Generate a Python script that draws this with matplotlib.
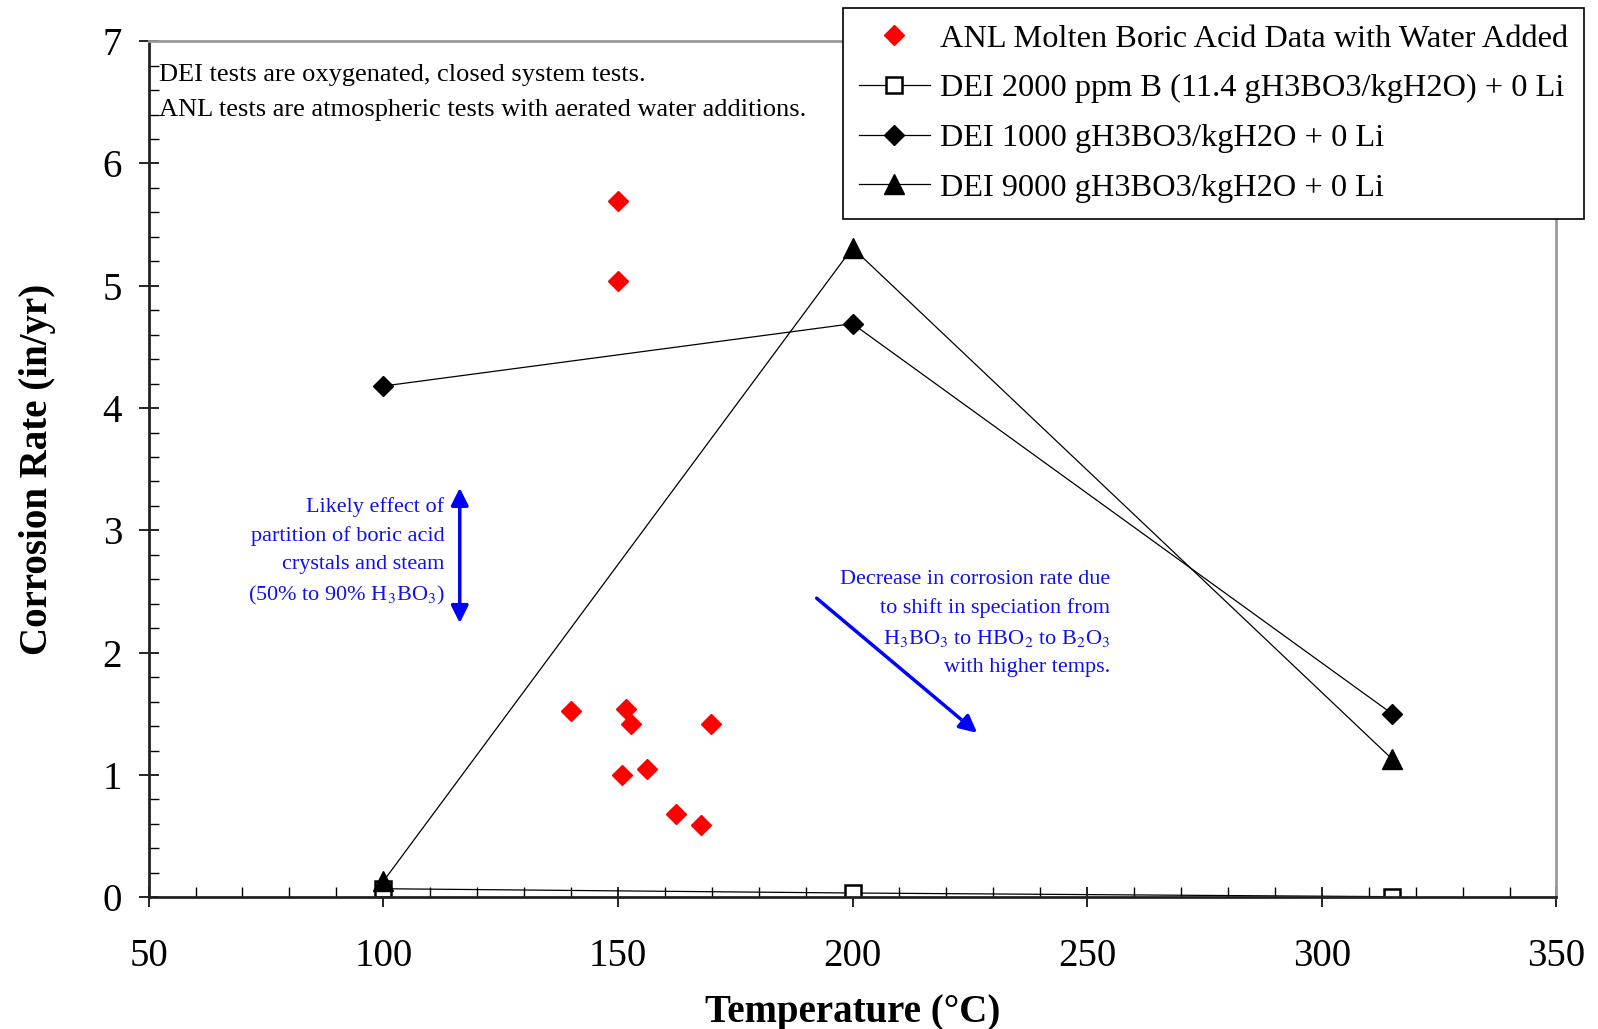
import matplotlib.pyplot as plt
from matplotlib.ticker import MultipleLocator

plt.rcParams['font.family'] = ['Liberation Serif', 'DejaVu Serif']
plt.rcParams['mathtext.fontset'] = 'stix'

# ANL molten boric acid data with water added
anl_temp = [150, 150, 140, 151.7, 152.8, 150.8, 156.2, 162.3, 167.7, 169.9]
anl_rate = [5.69, 5.04, 1.52, 1.54, 1.42, 1.00, 1.05, 0.68, 0.59, 1.42]

# DEI series
dei_temp = [100, 200, 315]
dei_2000ppm = [0.07, 0.035, 0.005]
dei_1000 = [4.18, 4.69, 1.50]
dei_9000 = [0.13, 5.31, 1.13]

fig = plt.figure(figsize=(15.98, 10.29), dpi=100)
ax = fig.add_axes([0.093, 0.128, 0.881, 0.832])

ax.plot(anl_temp, anl_rate, linestyle='none', marker='D', color='red', markersize=10,
        label='ANL Molten Boric Acid Data with Water Added')
ax.plot(dei_temp, dei_2000ppm, color='black', lw=0.9, marker='s', markersize=11,
        markerfacecolor='white', markeredgecolor='black', markeredgewidth=1.8,
        label='DEI 2000 ppm B (11.4 gH3BO3/kgH2O) + 0 Li')
ax.plot(dei_temp, dei_1000, color='black', lw=0.9, marker='D', markersize=10,
        label='DEI 1000 gH3BO3/kgH2O + 0 Li')
ax.plot(dei_temp, dei_9000, color='black', lw=0.9, marker='^', markersize=14,
        label='DEI 9000 gH3BO3/kgH2O + 0 Li')

ax.set_xlim(50, 350)
ax.set_ylim(0, 7)
ax.xaxis.set_major_locator(MultipleLocator(50))
ax.xaxis.set_minor_locator(MultipleLocator(10))
ax.yaxis.set_major_locator(MultipleLocator(1))
ax.yaxis.set_minor_locator(MultipleLocator(0.2))
ax.tick_params(which='major', direction='inout', length=14, width=1.2, labelsize=28)
ax.tick_params(axis='x', which='major', pad=22)
ax.tick_params(axis='y', which='major', pad=12)
ax.tick_params(which='minor', direction='in', length=7, width=1.0)

for s in ['left', 'bottom']:
    ax.spines[s].set_linewidth(2)
    ax.spines[s].set_color('#222222')
for s in ['top', 'right']:
    ax.spines[s].set_linewidth(2)
    ax.spines[s].set_color('#999999')

ax.set_xlabel('Temperature (°C)', fontsize=28, fontweight='bold', labelpad=14)
ax.set_ylabel('Corrosion Rate (in/yr)', fontsize=28, fontweight='bold', labelpad=34)

ax.text(52.3, 6.72, 'DEI tests are oxygenated, closed system tests.', fontsize=19, va='center')
ax.text(52.3, 6.44, 'ANL tests are atmospheric tests with aerated water additions.', fontsize=19, va='center')

blue = '#1010ee'
ax.annotate('', xy=(116.3, 2.22), xytext=(116.3, 3.37),
            arrowprops=dict(arrowstyle='<|-|>', color='blue', lw=2.5, mutation_scale=26))
ax.text(113, 2.82, 'Likely effect of\npartition of boric acid\ncrystals and steam\n'
        r'(50% to 90% H$_3$BO$_3$)', fontsize=16, color=blue, ha='right', va='center',
        linespacing=1.62)

ax.annotate('', xy=(227, 1.33), xytext=(191.9, 2.46),
            arrowprops=dict(arrowstyle='-|>', color='blue', lw=2.5, mutation_scale=26))
ax.text(254.9, 2.24, 'Decrease in corrosion rate due\nto shift in speciation from\n'
        r'H$_3$BO$_3$ to HBO$_2$ to B$_2$O$_3$' '\nwith higher temps.',
        fontsize=16, color=blue, ha='right', va='center', linespacing=1.62)

leg = ax.legend(loc='upper right', bbox_to_anchor=(1.0196, 1.039), fontsize=23.3, frameon=True,
                fancybox=False, edgecolor='black', framealpha=1, handlelength=2.2,
                borderpad=0.5, labelspacing=0.62, handletextpad=0.3, borderaxespad=0)
leg.get_frame().set_linewidth(1.2)

fig.savefig('out.png', dpi=100)
